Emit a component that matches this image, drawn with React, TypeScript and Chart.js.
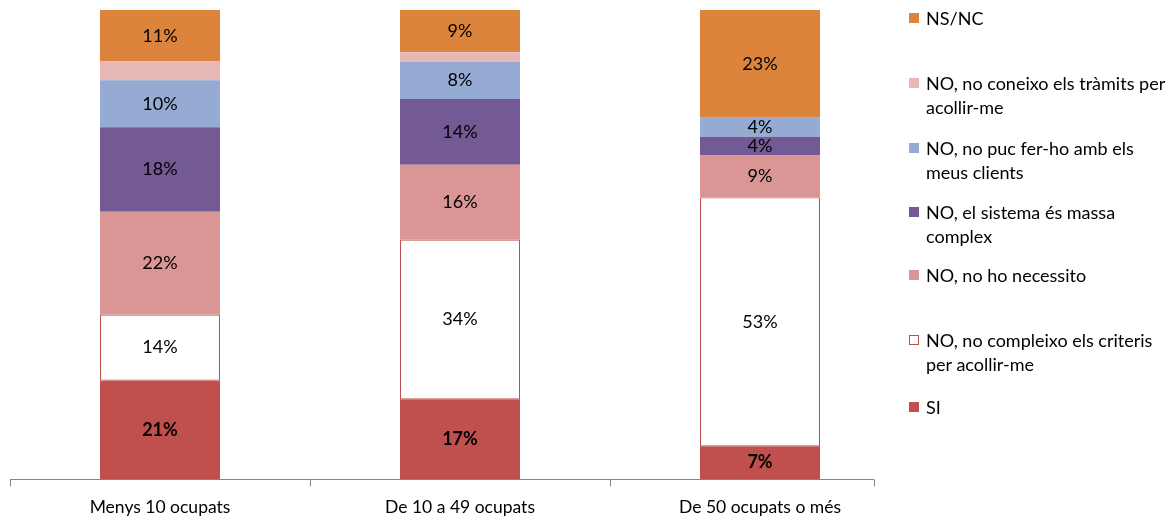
import React, { useEffect, useRef } from "react";
import { Chart, registerables } from "chart.js";

Chart.register(...registerables);

const categories = ["Menys 10 ocupats", "De 10 a 49 ocupats", "De 50 ocupats o més"];

const seriesNames = [
  "SI",
  "NO, no compleixo els criteris\nper acollir-me",
  "NO, no ho necessito",
  "NO, el sistema és massa\ncomplex",
  "NO, no puc fer-ho amb els\nmeus clients",
  "NO, no coneixo els tràmits per\nacollir-me",
  "NS/NC",
];

const siValues = [21, 17, 7];
const compleixoValues = [14, 34, 53];
const necessitoValues = [22, 16, 9];
const complexValues = [18, 14, 4];
const clientsValues = [10, 8, 4];
const coneixoValues = [4, 2, 0];
const nsncValues = [11, 9, 23];

const seriesValues = [
  siValues,
  compleixoValues,
  necessitoValues,
  complexValues,
  clientsValues,
  coneixoValues,
  nsncValues,
];

const fillColors = ["#C0504D", "#FFFFFF", "#D99694", "#735A94", "#95ABD3", "#E6B9B8", "#DC843C"];
const borderColors = ["#C0504D", "#C0504D", "#D99694", "#735A94", "#95ABD3", "#E6B9B8", "#DC843C"];
const showLabel = [true, true, true, true, true, false, true];
const boldLabel = [true, false, false, false, false, false, false];

// legend order top-to-bottom with vertical centre positions
const legendOrder = [6, 5, 4, 3, 2, 1, 0];
const legendTops = [18, 83, 148, 212, 275, 340, 407];

const FONT = "Lato, 'Open Sans', sans-serif";

const labelPlugin = {
  id: "barLabels",
  afterDatasetsDraw(chart: any) {
    const ctx = chart.ctx;
    ctx.save();
    ctx.textAlign = "center";
    ctx.textBaseline = "middle";
    ctx.fillStyle = "#000";
    chart.data.datasets.forEach((ds: any, di: number) => {
      if (!showLabel[di]) return;
      const meta = chart.getDatasetMeta(di);
      meta.data.forEach((bar: any, i: number) => {
        const v = ds.data[i];
        if (!v) return;
        const y = (bar.y + bar.base) / 2;
        ctx.font = `${boldLabel[di] ? "bold " : ""}18px ${FONT}`;
        ctx.fillText(`${v}%`, bar.x, y);
      });
    });
    ctx.restore();
  },
};

const axisPlugin = {
  id: "xAxisLine",
  afterDraw(chart: any) {
    const ctx = chart.ctx;
    const area = chart.chartArea;
    const n = categories.length;
    const cw = (area.right - area.left) / n;
    const y = Math.round(area.bottom) + 0.5;
    const end = area.left + cw * (n - 0.12);
    ctx.save();
    ctx.strokeStyle = "#868686";
    ctx.lineWidth = 1;
    ctx.beginPath();
    ctx.moveTo(area.left, y);
    ctx.lineTo(end, y);
    for (let i = 0; i < n; i++) {
      const bx = Math.round(area.left + cw * i) + 0.5;
      ctx.moveTo(bx, y);
      ctx.lineTo(bx, y + 7);
    }
    ctx.moveTo(Math.round(end) + 0.5, y);
    ctx.lineTo(Math.round(end) + 0.5, y + 7);
    ctx.stroke();
    ctx.restore();
  },
};

export default function App() {
  const canvasRef = useRef<HTMLCanvasElement | null>(null);

  useEffect(() => {
    document.body.style.margin = "0";
    const canvas = canvasRef.current;
    if (!canvas) return;
    const chart = new Chart(canvas, {
      type: "bar",
      data: {
        labels: categories,
        datasets: seriesValues.map((vals, i) => ({
          label: seriesNames[i],
          data: vals,
          backgroundColor: fillColors[i],
          borderColor: borderColors[i],
          borderWidth: i === 1 ? 1 : 0,
          borderSkipped: false,
          barPercentage: 0.4,
          categoryPercentage: 1,
        })),
      },
      options: {
        animation: false,
        responsive: false,
        maintainAspectRatio: false,
        layout: { padding: { left: 10, right: 263, top: 10, bottom: -6 } },
        plugins: {
          legend: { display: false },
          tooltip: { enabled: false },
        },
        scales: {
          x: {
            stacked: true,
            grid: { display: false },
            border: { display: false },
            ticks: {
              color: "#000",
              font: { family: FONT, size: 17.5 },
              padding: 10,
              maxRotation: 0,
            },
          },
          y: {
            stacked: true,
            display: false,
            min: 0,
            max: 100,
          },
        },
      },
      plugins: [labelPlugin, axisPlugin],
    });
    return () => chart.destroy();
  }, []);

  return (
    <div style={{ position: "absolute", left: 0, top: 0, width: 1173, height: 522, background: "#fff" }}>
      <canvas ref={canvasRef} width={1173} height={522} style={{ width: 1173, height: 522, display: "block" }} />
      {legendOrder.map((si, k) => (
        <div
          key={si}
          style={{
            position: "absolute",
            left: 909,
            top: legendTops[k] - 12,
            width: 264,
            fontFamily: FONT,
            fontSize: 18,
            lineHeight: "24px",
            color: "#000",
            whiteSpace: "pre-line",
          }}
        >
          <span
            style={{
              position: "absolute",
              left: 0,
              top: 7,
              width: si === 1 ? 8 : 10,
              height: si === 1 ? 8 : 10,
              background: fillColors[si],
              border: si === 1 ? `1px solid ${borderColors[si]}` : "none",
            }}
          />
          <div style={{ marginLeft: 17, whiteSpace: "pre" }}>{seriesNames[si]}</div>
        </div>
      ))}
    </div>
  );
}
